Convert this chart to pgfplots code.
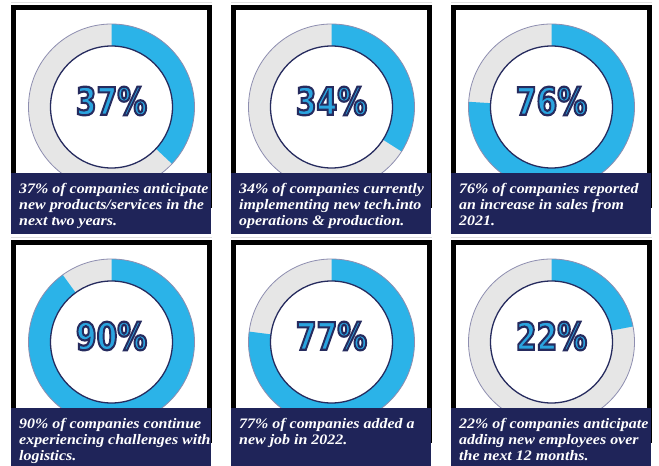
\documentclass[border=0pt]{standalone}
\usepackage{pgfplots}
\pgfplotsset{compat=1.18}
\usepackage{fontspec}
\setmainfont{Liberation Serif}
\newfontfamily\capfont[FakeStretch=1.1]{Liberation Serif}
\newfontfamily\pctfont{DejaVu Sans Condensed}
\definecolor{sky}{HTML}{2BB3E8}
\definecolor{pctblue}{HTML}{2AA4DF}
\definecolor{ringgray}{HTML}{E6E6E6}
\definecolor{capnavy}{HTML}{1F2459}
\definecolor{linenavy}{HTML}{262B5E}
\definecolor{outerline}{HTML}{8E8EB0}
\newcommand{\outlined}[1]{\textcolor{pctblue}{\special{pdf:literal direct 2 Tr 2.2 w 0.149 0.169 0.369 RG}#1\special{pdf:literal direct 0 Tr}}}
% #1 panel left x, #2 panel top y, #3 percentage, #4-#6 caption lines
\newcommand{\donut}[6]{%
  \draw[black!12, line width=1.5pt] (axis cs:#1,#2-2.5) -- (axis cs:#1+201,#2-2.5);
  \draw[black, line width=5pt] (axis cs:#1+2.5,#2+2.5) rectangle (axis cs:#1+198.5,#2+200);
  \fill[ringgray] (axis cs:#1+100.5,#2+102) circle[radius=83pt];
  \fill[sky] (axis cs:#1+100.5,#2+102) -- ++(0,83pt) arc[start angle=90, end angle={90-3.6*#3}, radius=83pt] -- cycle;
  \draw[outerline, line width=0.8pt] (axis cs:#1+100.5,#2+102) circle[radius=83pt];
  \fill[white] (axis cs:#1+100.5,#2+102) circle[radius=61pt];
  \draw[linenavy, line width=1.3pt] (axis cs:#1+100.5,#2+102) circle[radius=61pt];
  \node[font=\pctfont\bfseries\fontsize{38}{38}\selectfont, inner sep=0pt] at (axis cs:#1+100.5,#2+96)
     {\scalebox{0.87}[1]{\outlined{#3\%}}};
  \fill[capnavy] (axis cs:#1,#2+168) rectangle (axis cs:#1+200,#2+229);
  \node[anchor=base west, text=white, font=\capfont\bfseries\itshape\fontsize{14.5}{16}\selectfont, inner sep=0pt] at (axis cs:#1+8,#2+188) {#4};
  \node[anchor=base west, text=white, font=\capfont\bfseries\itshape\fontsize{14.5}{16}\selectfont, inner sep=0pt] at (axis cs:#1+8,#2+204) {#5};
  \node[anchor=base west, text=white, font=\capfont\bfseries\itshape\fontsize{14.5}{16}\selectfont, inner sep=0pt] at (axis cs:#1+8,#2+220) {#6};
}
\begin{document}
\begin{tikzpicture}
\begin{axis}[
  x=1pt, y=1pt,
  xmin=0, xmax=659, ymin=0, ymax=466,
  y dir=reverse,
  hide axis,
  clip mode=global,
]
\fill[white] (axis cs:0,0) rectangle (axis cs:659,466);
\coordinate (bl) at (axis cs:0,466);
\coordinate (tr) at (axis cs:659,0);
\donut{11}{5}{37}{37\% of companies anticipate}{new products/services in the}{next two years.}
\donut{231}{5}{34}{34\% of companies currently}{implementing new tech.into}{operations \& production.}
\donut{451}{5}{76}{76\% of companies reported}{an increase in sales from}{2021.}
\donut{11}{240}{90}{90\% of companies continue}{experiencing challenges with}{logistics.}
\donut{231}{240}{77}{77\% of companies added a}{new job in 2022.}{}
\donut{451}{240}{22}{22\% of companies anticipate}{adding new employees over}{the next 12 months.}
\end{axis}
\pgfresetboundingbox
\path (bl) rectangle (tr);
\end{tikzpicture}
\end{document}
